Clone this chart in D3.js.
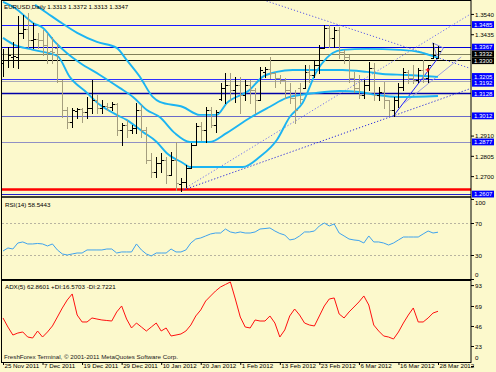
<!DOCTYPE html>
<html>
<head>
<meta charset="utf-8">
<script src="https://cdn.jsdelivr.net/npm/d3@7/dist/d3.min.js"></script>
<style>
  body { margin: 0; background: #fff; }
  svg { display: block; font-family: "Liberation Sans", Arial, sans-serif; }
</style>
</head>
<body>
<svg id="chart" width="496" height="372"></svg>
<script>
/*************************************************************
 *  Data section.
 *
 *************************************************************/

// daily bars, 25 Nov 2011 .. 28 Mar 2012 (index = bar number)
const open_prices = [1.3286,1.3302,1.3317,1.3317,1.3442,1.3462,1.3405,1.3411,1.3405,1.3379,
  1.3348,1.3364,1.3193,1.3043,1.2981,1.3038,1.3048,1.3032,1.3053,1.3095,
  1.3053,1.3063,1.3058,1.3074,1.2939,1.2965,1.2939,1.2950,1.3043,1.2939,
  1.2784,1.2722,1.2768,1.2784,1.2706,1.2784,1.2659,1.2670,1.2742,1.2861,
  1.2960,1.2939,1.3043,1.2965,1.3100,1.3157,1.3172,1.3146,1.3172,1.3120,
  1.3172,1.3146,1.3095,1.3240,1.3255,1.3234,1.3208,1.3198,1.3146,1.3105,
  1.3157,1.3157,1.3240,1.3224,1.3276,1.3364,1.3467,1.3416,1.3457,1.3343,
  1.3317,1.3208,1.3157,1.3120,1.3172,1.3260,1.3120,1.3136,1.3095,1.3043,
  1.3095,1.3162,1.3240,1.3208,1.3198,1.3250,1.3208,1.3312,1.3313];
const high_prices = [1.3359,1.3369,1.3395,1.3530,1.3535,1.3545,1.3493,1.3442,1.3457,1.3442,
  1.3421,1.3390,1.3198,1.3058,1.3053,1.3053,1.3053,1.3110,1.3198,1.3120,
  1.3095,1.3079,1.3084,1.3079,1.2975,1.2991,1.2965,1.3079,1.3069,1.2955,
  1.2820,1.2799,1.2820,1.2799,1.2825,1.2877,1.2690,1.2758,1.2872,1.2975,
  1.2981,1.3058,1.3058,1.3043,1.3183,1.3234,1.3234,1.3214,1.3214,1.3198,
  1.3198,1.3157,1.3265,1.3265,1.3317,1.3240,1.3224,1.3208,1.3183,1.3146,
  1.3183,1.3276,1.3276,1.3302,1.3379,1.3483,1.3483,1.3473,1.3473,1.3354,
  1.3328,1.3240,1.3224,1.3198,1.3291,1.3286,1.3162,1.3188,1.3095,1.3110,
  1.3183,1.3260,1.3250,1.3276,1.3260,1.3302,1.3276,1.3390,1.3372];
const low_prices = [1.3219,1.3265,1.3265,1.3260,1.3416,1.3369,1.3364,1.3364,1.3328,1.3286,
  1.3286,1.3188,1.3006,1.2950,1.2955,1.3001,1.2981,1.3001,1.3027,1.3027,
  1.3027,1.3043,1.3043,1.2913,1.2861,1.2903,1.2924,1.2924,1.2903,1.2768,
  1.2696,1.2696,1.2722,1.2665,1.2706,1.2628,1.2624,1.2644,1.2742,1.2861,
  1.2887,1.2877,1.2955,1.2929,1.3095,1.3079,1.3095,1.3084,1.3027,1.3095,
  1.3079,1.3027,1.3095,1.3214,1.3208,1.3162,1.3183,1.3105,1.3079,1.2975,
  1.3079,1.3157,1.3188,1.3214,1.3234,1.3364,1.3369,1.3369,1.3312,1.3286,
  1.3188,1.3136,1.3105,1.3105,1.3146,1.3095,1.3095,1.3053,1.3017,1.3012,
  1.3058,1.3146,1.3183,1.3183,1.3188,1.3188,1.3188,1.3312,1.3313];
const close_prices = [1.3302,1.3328,1.3322,1.3442,1.3462,1.3405,1.3411,1.3405,1.3379,1.3343,
  1.3343,1.3193,1.3043,1.2981,1.3043,1.3048,1.3032,1.3053,1.3095,1.3053,
  1.3063,1.3058,1.3074,1.2939,1.2965,1.2939,1.2950,1.3043,1.2939,1.2784,
  1.2722,1.2768,1.2784,1.2706,1.2784,1.2665,1.2670,1.2742,1.2861,1.2960,
  1.2939,1.3043,1.2965,1.3032,1.3157,1.3172,1.3146,1.3172,1.3120,1.3172,
  1.3146,1.3095,1.3250,1.3255,1.3234,1.3208,1.3198,1.3146,1.3105,1.3043,
  1.3100,1.3240,1.3224,1.3276,1.3364,1.3467,1.3416,1.3457,1.3343,1.3317,
  1.3208,1.3157,1.3120,1.3172,1.3260,1.3120,1.3136,1.3095,1.3043,1.3095,
  1.3162,1.3240,1.3208,1.3198,1.3250,1.3208,1.3276,1.3328,1.3347];

// moving averages, read as [bar, price]
const ma_slow = [[6.5,1.3587],[8.9,1.3545],[11.5,1.3499],[15,1.3442],[19,1.3395],[23,1.3364],
  [25,1.3302],[27.7,1.3214],[30.3,1.3110],[31.7,1.3084],[36.4,1.3058],[39.8,1.3017],
  [43.2,1.3017],[45.3,1.3079],[49.9,1.3146],[52.5,1.3214],[55.4,1.3240],[58.6,1.3250],
  [68.7,1.3250],[73.5,1.3240],[76.8,1.3229],[81.6,1.3224],[88,1.3214]];
const ma_mid = [[0,1.3602],[2.4,1.3571],[6.1,1.3493],[8.1,1.3467],[10.5,1.3395],[12.9,1.3338],
  [15.6,1.3286],[19.6,1.3224],[23.6,1.3157],[26.3,1.3110],[29.1,1.3043],[31.7,1.3006],
  [34.7,1.2924],[37.8,1.2877],[41.8,1.2877],[45.3,1.2924],[49.9,1.3001],[53.9,1.3058],
  [57.4,1.3105],[63.4,1.3131],[68.1,1.3141],[72.1,1.3136],[75.6,1.3120],[80.2,1.3110],[88,1.3115]];
const ma_fast = [[0,1.3416],[2,1.3384],[6.1,1.3354],[11,1.3322],[13.5,1.3214],[17,1.3131],
  [19.6,1.3069],[23,1.3017],[25,1.2991],[28.3,1.2929],[31.1,1.2877],[33.1,1.2820],
  [36.4,1.2768],[37.8,1.2747],[43.2,1.2747],[48.5,1.2747],[51.9,1.2799],[55.4,1.2887],
  [58,1.3006],[60.6,1.3079],[63.4,1.3240],[65.5,1.3312],[66.7,1.3338],[68.7,1.3354],
  [73.5,1.3359],[80.2,1.3354],[84.2,1.3343],[88,1.3312]];

// horizontal levels and trend lines
const level_prices = [1.3485, 1.3367, 1.3332, 1.3300, 1.3205, 1.3192, 1.3128, 1.3012, 1.2877, 1.2635, 1.2607];
const trend_lines = [[36,1.2624,94.3,1.3535],[36,1.2624,94.3,1.3151],[52.7,1.3612,94.3,1.3260],
  [79,1.3012,88,1.3312],[81.2,1.3079,92.7,1.3317]];
const triangle_points = [[86.9,1.3390],[89.1,1.3364],[87.9,1.3312]];

const rsi_values = [35,38.8,37.5,45,46.3,43.8,43.8,44.4,43.8,41.3,
  43.8,36.3,31.3,30,31.3,32.5,32.5,36.3,36.3,36.3,
  36.3,37.5,37.5,32.5,33.8,33.8,33.8,43.8,36.3,31.3,
  28.8,32.5,32.5,32.5,37.5,33.8,33.8,36.3,45,50,
  51.3,53.8,56.3,57.5,57.5,62.5,58.8,57.5,58.8,57.5,
  57.5,58.8,62.5,63.1,63.8,60,56.9,55,48.8,50,
  53.8,58.8,58.8,60,66.3,70,66.3,68.8,57.5,53.8,
  50,48.8,48.1,45,53.8,46.3,46.3,45,42.5,45,
  48.8,52.5,52.5,52.5,52.5,56.3,60,57.5,58.5];
const adx_values = [55.2,44.8,35.6,37.9,39.1,33.3,32.2,40.2,33.3,39.1,
  46,56.3,66.7,75.9,82.8,58.6,50.6,50.6,55.2,54,
  52.9,52.3,51.7,62.1,69,54,43.7,49.4,44.8,40.2,
  44.8,49.4,40.2,43.7,34.5,35.6,36.8,40.2,47.1,57.5,
  64.4,74.7,80.5,86.2,90.8,93.7,96.6,77,56.3,44.8,
  43.7,52.9,51.7,51.7,57.5,49.4,33.3,41.4,57.5,65.5,
  58.6,49.4,47.1,46,57.5,69,77,78.2,59.8,55.2,
  62.1,67.8,73.6,80.5,70.1,47.1,40.2,34.5,33.3,31,
  39.1,49.4,58.6,66.7,50.6,50.6,55.2,60.9,62.9];

const date_labels = ["25 Nov 2011","7 Dec 2011","19 Dec 2011","29 Dec 2011","10 Jan 2012","20 Jan 2012",
  "1 Feb 2012","13 Feb 2012","23 Feb 2012","6 Mar 2012","16 Mar 2012","28 Mar 2012"];
const date_bars = [0, 8, 16, 24, 32, 40, 48, 56, 64, 72, 80, 88];
const price_ticks = [1.3540, 1.3435, 1.3330, 1.3225, 1.3120, 1.3015, 1.2910, 1.2805, 1.2700];
const rsi_ticks = [100, 70, 30, 0];
const adx_ticks = [93, 69, 46, 23, 0];

const title_text = "EURUSD,Daily  1.3313 1.3372 1.3313 1.3347";
const rsi_title = "RSI(14) 58.5443";
const adx_title = "ADX(5) 62.8601 +DI:16.5703 -DI:2.7221";
const copyright_text = "FreshForex Terminal, \u00a9 2001-2011 MetaQuotes Software Corp.";

/*************************************************************
 *  Drawing section.
 *
 *************************************************************/

const BG = "#fcf9cc";
const RIGHT = 471;
const BOX_GAP = 6.8;
const main_box = {top: 1, bottom: 196};
const rsi_box = {top: 198, bottom: 279};
const adx_box = {top: 281, bottom: 362};

// line styles for level_prices (same order)
const level_style = [
  {c: "#1818ff", w: 1.2, box: "#0000ff"},
  {c: "#0000d8", w: 1.2, box: "#0000ff"},
  {c: "#80805a", w: 1, box: "#000"},
  {c: "#000", w: 1.2, box: "#000"},
  {c: "#3030ff", w: 1, box: "#0000ff"},
  {c: "#a8a8b8", w: 1, box: "#0000ff"},
  {c: "#0000a8", w: 1.4, box: "#0000ff"},
  {c: "#6a6ac8", w: 1, box: "#0000ff"},
  {c: "#9090c4", w: 1, box: "#0000ff"},
  {c: "#ff0000", w: 2.6, box: null},
  {c: "#2020c8", w: 1, box: "#0000ff"}
];
const trend_style = [
  {c: "#7070f0", dash: "1.2,2"},
  {c: "#2828e0", dash: "1.2,2"},
  {c: "#5a5ae8", dash: "1.2,2"},
  {c: "#2020ff", dash: null},
  {c: "#a0a0e0", dash: null}
];

let svg = d3.select("#chart");
svg.append("rect").attr("width", 496).attr("height", 372).attr("fill", BG);

const x = d3.scaleLinear().domain([0, 88]).range([3, 438]);
const y_price = d3.scaleLinear().domain([1.2597, 1.3607]).range([main_box.bottom, main_box.top]);
const y_rsi = d3.scaleLinear().domain([0, 100]).range([279, 199]);
const y_adx = d3.scaleLinear().domain([0, 100]).range([366, 279]);

let defs = svg.append("defs");
function add_clip(id, box){
    defs.append("clipPath").attr("id", id)
    .append("rect").attr("x", 2).attr("y", box.top)
    .attr("width", RIGHT - 2).attr("height", box.bottom - box.top);
}
add_clip("clip-main", main_box);
add_clip("clip-rsi", rsi_box);
add_clip("clip-adx", adx_box);

/**
 * Box positions on the price scale, pushed apart so texts do not collide.
 */
function level_box_positions(){
    let pos = [];
    level_prices.forEach((p, i) => {
        if (level_style[i].box) pos.push({i: i, y: y_price(p)});
    });
    for (let k = 0; k < 20; k++){
        for (let j = 1; j < pos.length; j++){
            let d = pos[j].y - pos[j-1].y;
            if (d < BOX_GAP){
                let s = (BOX_GAP - d) / 2;
                pos[j-1].y -= s;
                pos[j].y += s;
            }
        }
    }
    return pos;
}

/**
 * Draws horizontal levels, trend lines, moving averages and bars.
 */
function draw_main(){
    let g = svg.append("g").attr("clip-path", "url(#clip-main)");

    level_prices.forEach((p, i) => {
        let yy = Math.round(y_price(p)) + 0.5;
        g.append("line").attr("x1", 2).attr("x2", RIGHT).attr("y1", yy).attr("y2", yy)
        .attr("stroke", level_style[i].c).attr("stroke-width", level_style[i].w);
    });

    trend_lines.forEach((t, i) => {
        g.append("line")
        .attr("x1", x(t[0])).attr("y1", y_price(t[1]))
        .attr("x2", x(t[2])).attr("y2", y_price(t[3]))
        .attr("stroke", trend_style[i].c).attr("stroke-width", 1)
        .attr("stroke-dasharray", trend_style[i].dash);
    });

    g.append("path")
    .attr("d", d3.line().x(d => x(d[0])).y(d => y_price(d[1]))(triangle_points) + "Z")
    .attr("fill", "none").attr("stroke", "#8a8ae8").attr("stroke-width", 1);

    let ma_line = d3.line().x(d => x(d[0])).y(d => y_price(d[1])).curve(d3.curveMonotoneX);
    for (let ma of [ma_slow, ma_mid, ma_fast]){
        g.append("path").attr("d", ma_line(ma))
        .attr("fill", "none").attr("stroke", "#1cb4f2").attr("stroke-width", 1.9);
    }

    // OHLC bars: up = black, down = khaki
    let bars = g.append("g").attr("shape-rendering", "crispEdges");
    open_prices.forEach((o, i) => {
        let xx = Math.round(x(i)) + 0.5;
        let col = close_prices[i] >= o ? "#000" : "#a49e7e";
        let yo = Math.round(y_price(o)) + 0.5;
        let yc = Math.round(y_price(close_prices[i])) + 0.5;
        bars.append("line").attr("x1", xx).attr("x2", xx)
        .attr("y1", Math.round(y_price(high_prices[i]))).attr("y2", Math.round(y_price(low_prices[i])) + 1)
        .attr("stroke", col).attr("stroke-width", 1);
        bars.append("line").attr("x1", xx - 2.5).attr("x2", xx).attr("y1", yo).attr("y2", yo)
        .attr("stroke", col).attr("stroke-width", 1);
        bars.append("line").attr("x1", xx).attr("x2", xx + 2.5).attr("y1", yc).attr("y2", yc)
        .attr("stroke", col).attr("stroke-width", 1);
    });

    // small red marker near the last bars
    let mx = x(85.9), my = y_price(1.3250);
    g.append("path").attr("d", `M${mx-2},${my}H${mx+2}M${mx},${my-2}V${my+2}`)
    .attr("stroke", "#ff2020").attr("stroke-width", 1.2);
}

/**
 * Draws an indicator sub window line.
 */
function draw_indicator(values, scale, clip, color){
    svg.append("path")
    .attr("clip-path", `url(#${clip})`)
    .attr("d", d3.line().x((d, i) => x(i)).y(d => scale(d))(values))
    .attr("fill", "none").attr("stroke", color).attr("stroke-width", 1);
}

/**
 * Right axis with ticks; labels kept inside the window,
 * labels hidden under a level box are dropped.
 */
function draw_right_axis(scale, ticks, fmt, box, boxes){
    let shown = ticks.filter(v => !(boxes || []).some(b => Math.abs(b.y - scale(v)) < 6));
    let axis = d3.axisRight(scale).tickValues(shown).tickFormat(fmt).tickSizeInner(3).tickSizeOuter(0).tickPadding(1);
    let g = svg.append("g").attr("transform", `translate(${RIGHT},0)`).call(axis);
    g.select(".domain").remove();
    g.selectAll("line").attr("stroke", "#000");
    g.selectAll("text").attr("font-size", 6.2).attr("font-family", "Liberation Sans, Arial, sans-serif")
    .attr("fill", "#000").attr("dy", "0.35em")
    .attr("y", d => Math.max(box.top + 4, Math.min(box.bottom - 5, scale(d))) - scale(d));
}

function draw_level_boxes(pos){
    for (let b of pos){
        let st = level_style[b.i];
        svg.append("rect").attr("x", RIGHT + 1).attr("y", b.y - 3.4).attr("width", 22).attr("height", 6.8)
        .attr("fill", st.box);
        svg.append("text").attr("x", RIGHT + 3).attr("y", b.y).attr("dy", "0.36em")
        .attr("font-size", 6).attr("fill", "#fff").text(level_prices[b.i].toFixed(4));
    }
}

function draw_frame(){
    svg.append("rect").attr("x", 1.5).attr("y", 0.5).attr("width", RIGHT - 1.5).attr("height", adx_box.bottom)
    .attr("fill", "none").attr("stroke", "#000").attr("stroke-width", 1);
    svg.append("line").attr("x1", 1).attr("x2", RIGHT).attr("y1", 197).attr("y2", 197)
    .attr("stroke", "#000").attr("stroke-width", 1.4);
    svg.append("line").attr("x1", 1).attr("x2", RIGHT).attr("y1", 280).attr("y2", 280)
    .attr("stroke", "#000").attr("stroke-width", 2);
}

function draw_texts(){
    let t = (tx, ty, s) => svg.append("text").attr("x", tx).attr("y", ty)
        .attr("font-size", 6.2).attr("fill", "#000").text(s);
    t(4, 8.5, title_text);
    t(5, 207, rsi_title);
    t(5, 289, adx_title);
    t(4, 358.5, copyright_text).attr("fill", "#202020");
}

function draw_dates(){
    let axis = d3.axisBottom(x).tickValues(date_bars).tickFormat((d, i) => date_labels[i])
    .tickSizeInner(3).tickSizeOuter(0).tickPadding(0);
    let g = svg.append("g").attr("transform", `translate(0,${adx_box.bottom})`).call(axis);
    g.select(".domain").remove();
    g.selectAll("line").attr("stroke", "#000");
    g.selectAll("text").attr("font-size", 6.2).attr("font-family", "Liberation Sans, Arial, sans-serif")
    .attr("fill", "#000").attr("text-anchor", "start").attr("dx", 1).attr("y", 2).attr("dy", "0.71em");
}

// RSI levels
for (let v of [70, 30]){
    svg.append("line").attr("x1", 2).attr("x2", RIGHT).attr("y1", y_rsi(v) + 0.5).attr("y2", y_rsi(v) + 0.5)
    .attr("stroke", "#b8b4a0").attr("stroke-dasharray", "2,2");
}

let box_pos = level_box_positions();
draw_main();
draw_indicator(rsi_values, y_rsi, "clip-rsi", "#3ea2ee");
draw_indicator(adx_values, y_adx, "clip-adx", "#ff1010");
draw_frame();
draw_right_axis(y_price, price_ticks, d3.format(".4f"), main_box, box_pos);
draw_right_axis(y_rsi, rsi_ticks, d3.format("d"), rsi_box);
draw_right_axis(y_adx, adx_ticks, d3.format("d"), adx_box);
draw_level_boxes(box_pos);
draw_texts();
draw_dates();
</script>
</body>
</html>
